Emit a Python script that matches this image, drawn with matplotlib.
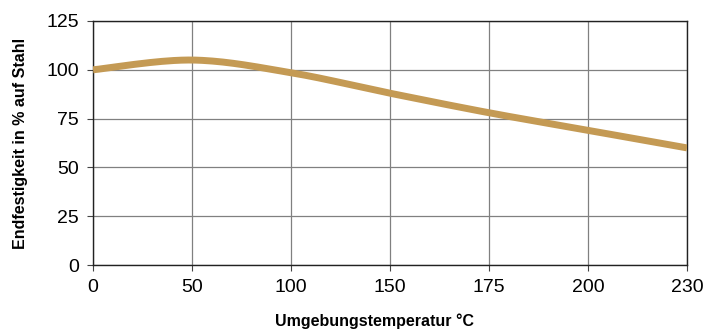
import numpy as np
import matplotlib.pyplot as plt

# temperature categories (evenly spaced on the chart) and strength values
temps = ['0', '50', '100', '150', '175', '200', '230']
strength = [100, 105, 98.5, 88, 78, 69, 60]

plt.rcParams['font.family'] = ['Liberation Sans', 'DejaVu Sans']


def smooth(x, y, n=30):
    # Catmull-Rom curve through the points, like a "smoothed line" chart
    x = np.asarray(x, float)
    y = np.asarray(y, float)
    px = np.concatenate([[x[0]], x, [x[-1]]])
    py = np.concatenate([[y[0]], y, [y[-1]]])
    xs, ys = [], []
    t = np.linspace(0, 1, n)
    for i in range(1, len(px) - 2):
        p0, p1, p2, p3 = (np.array([px[j], py[j]]) for j in range(i - 1, i + 3))
        c1 = p1 + (p2 - p0) / 6
        c2 = p2 - (p3 - p1) / 6
        pts = ((1 - t) ** 3)[:, None] * p1 + (3 * (1 - t) ** 2 * t)[:, None] * c1 \
            + (3 * (1 - t) * t ** 2)[:, None] * c2 + (t ** 3)[:, None] * p2
        xs.extend(pts[:, 0])
        ys.extend(pts[:, 1])
    return xs, ys


fig = plt.figure(figsize=(7.05, 3.33), dpi=100)
ax = fig.add_axes([0.132, 0.204, 0.8425, 0.733])

pos = np.arange(len(temps))
sx, sy = smooth(pos, strength)
ax.plot(sx, sy, color='#C49A54', linewidth=5, solid_capstyle='butt', zorder=3)

ax.set_xlim(0, len(temps) - 1)
ax.set_ylim(0, 125)
ax.set_xticks(pos)
ax.set_xticklabels(temps)
ax.set_yticks([0, 25, 50, 75, 100, 125])
ax.tick_params(labelsize=14, length=4, width=0.8, color='#444444')
ax.tick_params(axis='y', pad=6)
ax.tick_params(axis='x', pad=6)

ax.grid(True, color='#808080', linewidth=0.9)
ax.set_axisbelow(True)
for s in ax.spines.values():
    s.set_color('#222222')
    s.set_linewidth(1.0)

ax.set_xlabel('Umgebungstemperatur °C', fontsize=11.5, fontweight='bold')
ax.xaxis.set_label_coords(0.474, -0.2)
ax.set_ylabel('Endfestigkeit in % auf Stahl', fontsize=11.5, fontweight='bold', labelpad=13)

fig.savefig('out.png', dpi=100)
